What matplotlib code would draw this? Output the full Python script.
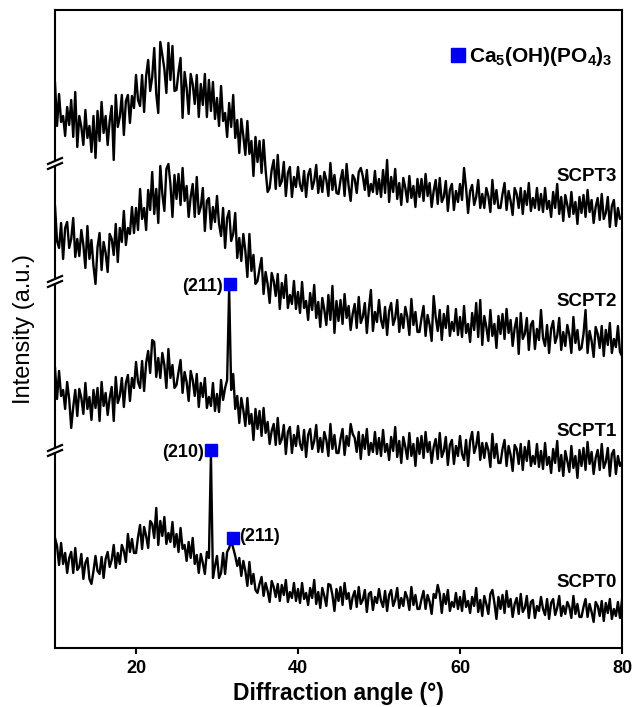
import numpy as np
import matplotlib
matplotlib.use('Agg')
import matplotlib.pyplot as plt
from matplotlib.patches import Polygon

plt.rcParams['font.family'] = 'Liberation Sans'
plt.rcParams['mathtext.fontset'] = 'custom'
plt.rcParams['mathtext.rm'] = 'Liberation Sans:bold'
plt.rcParams['mathtext.bf'] = 'Liberation Sans:bold'
plt.rcParams['mathtext.default'] = 'bf'

# 2theta grid, 0.25 deg steps from 10 to 80
two_theta = np.linspace(10, 80, 281)

# stacked intensities (a.u.), one row = 5 deg
scpt3 = [
    565, 522, 554, 526, 532, 512, 541, 523, 548, 511, 556, 501, 532, 521, 503, 538, 510, 522, 496, 532,
    490, 537, 507, 546, 515, 532, 503, 527, 542, 488, 553, 521, 531, 553, 513, 547, 553, 525, 552, 540,
    573, 548, 542, 573, 536, 572, 588, 557, 571, 600, 554, 535, 606, 593, 579, 555, 605, 568, 602, 557,
    558, 576, 590, 530, 576, 560, 534, 574, 564, 544, 573, 531, 564, 543, 574, 531, 568, 537, 566, 529,
    550, 522, 562, 527, 535, 511, 545, 521, 553, 510, 528, 495, 529, 512, 493, 527, 494, 507, 472, 511,
    486, 507, 475, 508, 478, 456, 460, 478, 488, 459, 493, 462, 467, 486, 452, 475, 481, 451, 471, 461,
    481, 463, 457, 477, 451, 473, 479, 459, 467, 483, 455, 472, 456, 476, 468, 452, 485, 458, 473, 455,
    454, 468, 478, 452, 484, 462, 447, 473, 469, 455, 476, 480, 472, 458, 478, 452, 464, 456, 477, 454,
    469, 451, 478, 455, 488, 446, 471, 456, 479, 449, 465, 443, 470, 460, 446, 472, 450, 462, 441, 469,
    451, 469, 447, 474, 452, 465, 441, 457, 468, 444, 470, 446, 451, 467, 437, 458, 464, 438, 457, 446,
    464, 448, 480, 460, 435, 457, 463, 443, 451, 468, 440, 454, 440, 460, 452, 436, 468, 444, 458, 440,
    440, 454, 465, 438, 457, 447, 433, 460, 454, 440, 460, 434, 457, 443, 465, 437, 450, 440, 460, 438,
    454, 436, 460, 439, 447, 431, 456, 440, 464, 434, 451, 427, 453, 443, 431, 456, 434, 446, 424, 451,
    435, 453, 431, 458, 436, 448, 425, 441, 450, 428, 454, 429, 435, 451, 421, 442, 448, 422, 440, 429,
    431]

scpt2 = [
    442, 407, 400, 425, 389, 420, 426, 400, 409, 430, 391, 409, 392, 418, 403, 380, 422, 389, 408, 382,
    364, 401, 415, 378, 406, 395, 376, 414, 409, 393, 424, 386, 420, 406, 437, 403, 420, 414, 441, 415,
    440, 418, 459, 429, 440, 418, 458, 438, 476, 434, 459, 425, 482, 454, 437, 479, 484, 464, 431, 473,
    449, 474, 443, 480, 447, 462, 431, 451, 464, 431, 471, 434, 441, 460, 417, 447, 450, 419, 441, 426,
    452, 424, 412, 440, 400, 430, 437, 407, 414, 435, 390, 410, 387, 414, 397, 371, 414, 377, 393, 364,
    367, 379, 390, 354, 376, 364, 345, 375, 367, 352, 374, 339, 365, 350, 373, 340, 353, 344, 367, 339,
    356, 335, 366, 340, 347, 328, 355, 338, 363, 330, 346, 321, 350, 338, 323, 353, 328, 362, 315, 347,
    327, 348, 324, 354, 330, 342, 318, 334, 344, 320, 351, 325, 331, 345, 315, 339, 358, 317, 336, 326,
    348, 328, 320, 341, 313, 337, 345, 323, 330, 348, 316, 334, 320, 341, 331, 313, 349, 323, 336, 316,
    316, 330, 342, 312, 333, 323, 307, 352, 331, 317, 338, 308, 334, 320, 342, 312, 326, 317, 339, 313,
    331, 311, 342, 315, 324, 306, 335, 318, 345, 311, 348, 303, 332, 321, 307, 338, 312, 324, 300, 332,
    314, 334, 309, 339, 315, 328, 302, 320, 330, 294, 335, 309, 314, 330, 298, 323, 327, 299, 319, 308,
    338, 310, 302, 323, 295, 319, 327, 305, 312, 330, 298, 316, 302, 323, 313, 295, 331, 305, 318, 298,
    300, 314, 338, 295, 317, 307, 291, 321, 314, 300, 322, 292, 318, 303, 325, 295, 309, 301, 322, 296,
    292]

scpt1 = [
    280, 249, 277, 252, 258, 239, 266, 249, 220, 241, 258, 232, 259, 250, 234, 265, 239, 251, 228, 258,
    240, 260, 227, 266, 242, 255, 233, 250, 261, 227, 271, 245, 252, 270, 241, 265, 273, 247, 270, 260,
    286, 266, 260, 287, 257, 285, 297, 275, 308, 306, 271, 290, 270, 295, 283, 260, 299, 270, 283, 260,
    263, 276, 288, 255, 276, 266, 247, 277, 268, 252, 274, 241, 265, 251, 270, 240, 251, 242, 265, 237,
    254, 236, 268, 248, 260, 268, 360, 258, 274, 239, 252, 225, 250, 238, 222, 250, 224, 234, 208, 239,
    219, 237, 212, 240, 215, 226, 204, 217, 224, 203, 230, 204, 209, 223, 194, 216, 221, 195, 213, 202,
    222, 204, 198, 218, 191, 213, 219, 199, 207, 223, 196, 210, 196, 216, 208, 192, 224, 199, 213, 195,
    195, 209, 219, 193, 212, 202, 224, 214, 210, 196, 216, 189, 213, 199, 219, 193, 205, 196, 216, 194,
    210, 192, 218, 196, 204, 188, 211, 197, 221, 191, 207, 185, 211, 201, 189, 215, 192, 204, 182, 210,
    194, 212, 190, 216, 196, 206, 185, 201, 209, 189, 215, 191, 197, 211, 183, 203, 208, 184, 202, 192,
    212, 194, 188, 208, 182, 207, 216, 195, 202, 216, 188, 205, 190, 205, 198, 181, 214, 190, 204, 185,
    185, 199, 208, 182, 202, 193, 177, 203, 199, 184, 204, 178, 201, 187, 207, 182, 192, 184, 204, 181,
    197, 179, 205, 183, 191, 175, 199, 185, 207, 177, 193, 172, 197, 187, 176, 202, 180, 192, 170, 198,
    182, 200, 178, 206, 184, 196, 174, 190, 198, 178, 204, 180, 186, 200, 172, 194, 198, 174, 192, 182,
    186]

scpt0 = [
    110, 102, 83, 105, 84, 95, 75, 90, 96, 75, 100, 78, 81, 94, 69, 85, 90, 69, 64, 77,
    92, 77, 74, 91, 70, 89, 96, 81, 88, 103, 80, 95, 84, 103, 97, 86, 114, 96, 109, 95,
    95, 111, 123, 99, 121, 112, 100, 127, 124, 110, 140, 103, 127, 112, 131, 104, 115, 106, 126, 101,
    114, 96, 120, 99, 103, 87, 106, 90, 110, 84, 93, 75, 94, 85, 74, 96, 90, 193, 70, 82,
    92, 70, 75, 95, 74, 96, 100, 107, 100, 92, 82, 90, 72, 87, 77, 62, 86, 64, 74, 58,
    55, 64, 71, 52, 65, 57, 46, 67, 61, 51, 64, 47, 63, 53, 68, 46, 56, 50, 65, 47,
    59, 45, 65, 49, 55, 43, 60, 50, 68, 44, 56, 40, 60, 52, 42, 64, 63, 53, 37, 59,
    47, 61, 43, 65, 49, 55, 39, 51, 57, 41, 61, 44, 48, 58, 36, 54, 56, 38, 51, 45,
    59, 47, 41, 57, 37, 53, 58, 42, 48, 60, 40, 50, 42, 56, 50, 38, 61, 43, 53, 39,
    39, 49, 57, 39, 53, 46, 34, 54, 50, 63, 54, 35, 54, 44, 58, 37, 46, 41, 55, 39,
    51, 37, 57, 41, 47, 35, 51, 42, 60, 36, 48, 32, 52, 44, 34, 54, 58, 45, 29, 51,
    39, 53, 35, 57, 41, 49, 31, 44, 50, 34, 54, 36, 40, 52, 30, 46, 48, 30, 42, 37,
    51, 39, 33, 49, 29, 45, 49, 33, 40, 52, 32, 42, 34, 46, 41, 30, 52, 34, 44, 31,
    31, 41, 49, 31, 44, 36, 26, 46, 42, 32, 47, 27, 45, 35, 49, 29, 39, 32, 46, 30,
    48]

series = [scpt0, scpt1, scpt2, scpt3]
sample_names = ['SCPT0', 'SCPT1', 'SCPT2', 'SCPT3']
name_y = [65, 216, 346, 471]

# hydroxyapatite reflections: (label, 2theta, marker height, label side)
hap_peaks = [('(211)', 31.55, 364, 'left'),
             ('(210)', 29.25, 198, 'left'),
             ('(211)', 31.95, 110, 'right')]

# y levels where the axis is broken
break_y = [486, 368, 199]

fig = plt.figure(figsize=(6.33, 7.07), dpi=100)
ax = fig.add_axes([0.0869, 0.0835, 0.8957, 0.9024])

for s in series:
    ax.plot(two_theta, s, color='black', lw=1.7)

for name, yy in zip(sample_names, name_y):
    ax.text(79.4, yy, name, ha='right', va='center', fontsize=13.5, fontweight='bold')

blue = '#0000f0'
for lab, xx, yy, side in hap_peaks:
    ax.plot([xx], [yy], 's', color=blue, markersize=8.5, zorder=4)
    if side == 'left':
        ax.text(xx - 0.85, yy - 3, lab, ha='right', va='center', fontsize=13, fontweight='bold')
    else:
        ax.text(xx + 0.75, yy + 1, lab, ha='left', va='center', fontsize=13, fontweight='bold')

# legend entry
ax.plot([59.75], [593], 's', color=blue, markersize=9.5)
ax.text(61.1, 591, 'Ca$_5$(OH)(PO$_4$)$_3$', ha='left', va='center', fontsize=15, fontweight='bold')

ax.set_xlim(10, 80)
ax.set_ylim(0, 638)
ax.set_xticks([20, 40, 60, 80])
ax.set_yticks([])
ax.tick_params(axis='x', direction='out', length=4, width=1.5, labelsize=13, pad=5)
for lab in ax.get_xticklabels():
    lab.set_fontweight('bold')
for sp in ax.spines.values():
    sp.set_linewidth(1.5)

# axis breaks on the left spine
trans = ax.get_yaxis_transform()
px = 1.0 / 567
for yb in break_y:
    gap = Polygon([(-7 * px, yb - 7), (7 * px, yb - 1), (7 * px, yb + 4), (-7 * px, yb - 2)],
                  closed=True, facecolor='white', edgecolor='none', transform=trans,
                  clip_on=False, zorder=5)
    ax.add_patch(gap)
    for off in (0, -5):
        ax.plot([-7 * px, 7 * px], [yb - 2 + off, yb + 4 + off], color='black', lw=1.6,
                transform=trans, clip_on=False, zorder=6)

ax.set_xlabel('Diffraction angle (°)', fontsize=16.5, fontweight='bold', va='bottom')
ax.xaxis.set_label_coords(0.5, -0.09)
ax.set_ylabel('Intensity (a.u.)', fontsize=17)
ax.yaxis.set_label_coords(-0.035, 0.5)

fig.savefig('out.png', dpi=100)
